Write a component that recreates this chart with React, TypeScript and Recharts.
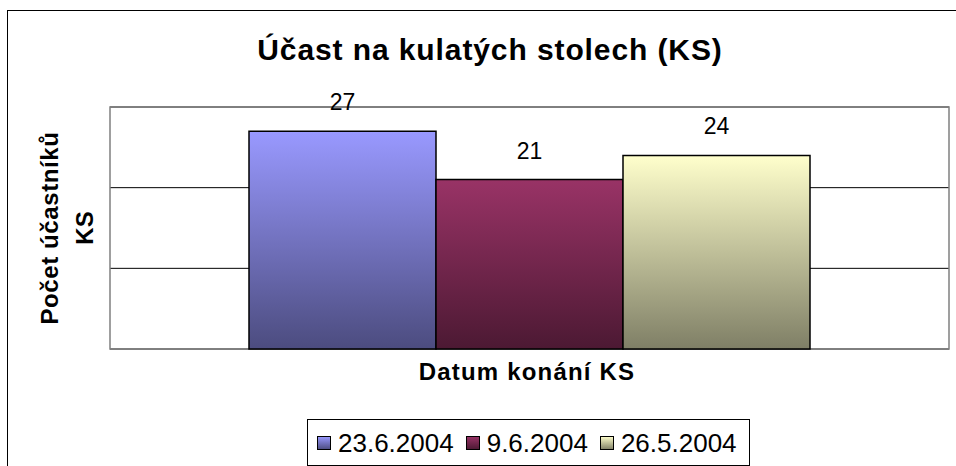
import { BarChart, Bar, XAxis, YAxis, CartesianGrid, ReferenceArea, LabelList, Legend } from 'recharts';

const FONT = '"Liberation Sans", Arial, sans-serif';

const categories = ['KS'];
const seriesNames = ['23.6.2004', '9.6.2004', '26.5.2004'];
const seriesValues = [[27], [21], [24]];
const yTicks = [0, 10, 20, 30];
const colors = [
  { top: '#9999FF', bottom: '#4C4C7F' },
  { top: '#993366', bottom: '#4C1933' },
  { top: '#FFFFCC', bottom: '#7F7F66' },
];

const data = categories.map((name, i) => {
  const row: Record<string, string | number> = { name };
  seriesValues.forEach((vals, s) => {
    row['s' + s] = vals[i];
  });
  return row;
});

const renderLegend = (props: any) => {
  const items = [...(props.payload || [])].sort(
    (a: any, b: any) => seriesNames.indexOf(a.value) - seriesNames.indexOf(b.value)
  );
  return (
    <div
      style={{
        display: 'flex',
        alignItems: 'center',
        boxSizing: 'border-box',
        height: 47,
        border: '1px solid #000',
        background: '#fff',
        paddingLeft: 9,
        paddingRight: 0,
        fontFamily: FONT,
      }}
    >
      {items.map((p: any) => {
        const idx = seriesNames.indexOf(p.value);
        return (
          <div key={p.value} style={{ display: 'flex', alignItems: 'center', marginRight: 12 }}>
            <svg width={14} height={14} style={{ display: 'block' }}>
              <rect x={0.5} y={0.5} width={13} height={13} fill={`url(#g${idx})`} stroke="#000" />
            </svg>
            <span style={{ marginLeft: 7, fontSize: 26, lineHeight: '26px', color: '#000' }}>{p.value}</span>
          </div>
        );
      })}
    </div>
  );
};

export default function App() {
  return (
    <div
      style={{
        position: 'absolute',
        left: 0,
        top: 0,
        width: 956,
        height: 466,
        background: '#fff',
        overflow: 'hidden',
        fontFamily: FONT,
      }}
    >
      <div
        style={{
          position: 'absolute',
          left: 7,
          top: 10,
          width: 1000,
          height: 500,
          borderLeft: '1px solid #000',
          borderTop: '1px solid #000',
        }}
      />
      <div style={{ position: 'absolute', left: 0, top: 0 }}>
        <BarChart
          width={956}
          height={466}
          data={data}
          margin={{ top: 107, right: 7, bottom: 117, left: 110 }}
          barGap={0}
          barCategoryGap={139}
        >
          <defs>
            {colors.map((c, i) => (
              <linearGradient key={i} id={`g${i}`} x1="0" y1="0" x2="0" y2="1">
                <stop offset="0%" stopColor={c.top} />
                <stop offset="100%" stopColor={c.bottom} />
              </linearGradient>
            ))}
          </defs>
          <CartesianGrid vertical={false} stroke="#000" strokeWidth={1} />
          <XAxis dataKey="name" hide />
          <YAxis hide domain={[0, 30]} ticks={yTicks} />
          <ReferenceArea y1={0} y2={30} fill="none" stroke="#808080" strokeWidth={1.5} ifOverflow="visible" />
          {seriesNames.map((name, i) => (
            <Bar
              key={name}
              dataKey={'s' + i}
              name={name}
              fill={`url(#g${i})`}
              stroke="#000"
              strokeWidth={1.5}
              isAnimationActive={false}
            >
              <LabelList
                dataKey={'s' + i}
                position="top"
                offset={21}
                fill="#000"
                fontSize={23}
                fontFamily={FONT}
              />
            </Bar>
          ))}
          <Legend
            layout="horizontal"
            verticalAlign="middle"
            align="center"
            content={renderLegend}
            wrapperStyle={{ left: 307, top: 419, width: 'auto' }}
          />
        </BarChart>
      </div>
      <svg
        width={956}
        height={466}
        style={{ position: 'absolute', left: 0, top: 0, pointerEvents: 'none' }}
      >
        <text
          x={490}
          y={60}
          textAnchor="middle"
          fontFamily={FONT}
          fontWeight="bold"
          fontSize={30}
          letterSpacing={0.9}
          fill="#000"
        >
          Účast na kulatých stolech (KS)
        </text>
        <text
          x={527}
          y={380}
          textAnchor="middle"
          fontFamily={FONT}
          fontWeight="bold"
          fontSize={24}
          letterSpacing={1.2}
          fill="#000"
        >
          Datum konání KS
        </text>
        <text
          x={58}
          y={228}
          transform="rotate(-90, 58, 228)"
          textAnchor="middle"
          fontFamily={FONT}
          fontWeight="bold"
          fontSize={24}
          letterSpacing={0.6}
          fill="#000"
        >
          Počet účastníků
        </text>
        <text
          x={93}
          y={228}
          transform="rotate(-90, 93, 228)"
          textAnchor="middle"
          fontFamily={FONT}
          fontWeight="bold"
          fontSize={24}
          fill="#000"
        >
          KS
        </text>
      </svg>
    </div>
  );
}
